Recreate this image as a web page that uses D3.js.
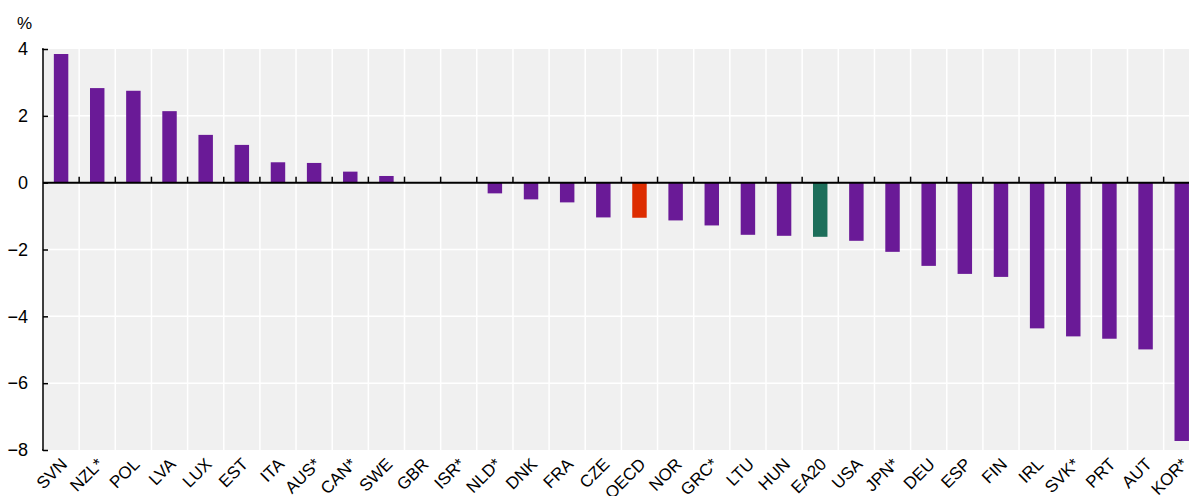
<!DOCTYPE html>
<html>
<head>
<meta charset="utf-8">
<script src="https://cdn.jsdelivr.net/npm/d3@7"></script>
<style>
  body { margin: 0; background: #fff; }
  svg { display: block; font-family: "Liberation Sans", Arial, sans-serif; }
</style>
</head>
<body>
<div id="chart"></div>
<script>
// 국가 코드
const countries = ["SVN", "NZL*", "POL", "LVA", "LUX", "EST", "ITA", "AUS*", "CAN*", "SWE", "GBR", "ISR*",
  "NLD*", "DNK", "FRA", "CZE", "OECD", "NOR", "GRC*", "LTU", "HUN", "EA20", "USA", "JPN*",
  "DEU", "ESP", "FIN", "IRL", "SVK*", "PRT", "AUT", "KOR*"];
// 변화율 (%)
const values = [3.85, 2.83, 2.75, 2.14, 1.43, 1.13, 0.61, 0.59, 0.33, 0.2, 0, 0,
  -0.32, -0.5, -0.59, -1.04, -1.05, -1.13, -1.28, -1.56, -1.59, -1.62, -1.74, -2.07,
  -2.49, -2.73, -2.82, -4.36, -4.6, -4.67, -4.99, -7.73];
const yTicks = [4, 2, 0, -2, -4, -6, -8];
const highlight = { "OECD": "#dd2c00", "EA20": "#1d6e5a" };

const width = 1189, height = 496;
const plotLeft = 43, plotTop = 49, plotBottom = 450;
const step = 36.15;
const plotRight = plotLeft + countries.length * step;

const svg = d3.select("#chart").append("svg")
    .attr("width", width)
    .attr("height", height);

const x = d3.scaleBand()
    .domain(countries)
    .range([plotLeft, plotRight])
    .paddingInner(0.6)
    .paddingOuter(0.3);

const y = d3.scaleLinear()
    .domain([-8, 4])
    .range([plotBottom, plotTop]);

// 배경
svg.append("rect")
    .attr("x", plotLeft)
    .attr("y", plotTop)
    .attr("width", plotRight - plotLeft)
    .attr("height", plotBottom - plotTop)
    .attr("fill", "#f0f0f0");

// 세로 격자선
svg.append("g")
    .selectAll("line")
    .data(countries.slice(1))
    .enter().append("line")
    .attr("x1", d => x(d) - x.step() * 0.3)
    .attr("x2", d => x(d) - x.step() * 0.3)
    .attr("y1", plotTop)
    .attr("y2", plotBottom)
    .attr("stroke", "#fff")
    .attr("stroke-width", 1.5);

// 가로 격자선
svg.append("g")
    .selectAll("line")
    .data(yTicks.filter(d => d !== 0 && d !== 4 && d !== -8))
    .enter().append("line")
    .attr("x1", plotLeft)
    .attr("x2", plotRight)
    .attr("y1", d => y(d))
    .attr("y2", d => y(d))
    .attr("stroke", "#fff")
    .attr("stroke-width", 1.5);

// 막대
svg.append("g")
    .selectAll("rect")
    .data(countries)
    .enter().append("rect")
    .attr("x", d => x(d))
    .attr("width", x.bandwidth())
    .attr("y", (d, i) => y(Math.max(0, values[i])))
    .attr("height", (d, i) => Math.abs(y(values[i]) - y(0)))
    .attr("fill", d => highlight[d] || "#6a1a97");

// y축
const yAxis = svg.append("g")
    .attr("transform", `translate(${plotLeft},0)`)
    .call(d3.axisLeft(y).tickValues(yTicks).tickSize(-5).tickPadding(15).tickFormat(d3.format("d")));
yAxis.select(".domain").attr("stroke", "#000").attr("stroke-width", 1.5).attr("d", `M-1,${plotTop}H0V${plotBottom}H-1`);
yAxis.selectAll(".tick line").attr("stroke", "#000").attr("stroke-width", 1.5);
yAxis.selectAll("text").attr("fill", "#000").style("font-size", "18px");

// 0 기준선과 눈금
const zero = svg.append("g");
zero.append("line")
    .attr("x1", plotLeft)
    .attr("x2", plotRight)
    .attr("y1", y(0))
    .attr("y2", y(0))
    .attr("stroke", "#000")
    .attr("stroke-width", 2);
zero.selectAll(".tk")
    .data(countries.slice(1))
    .enter().append("line")
    .attr("class", "tk")
    .attr("x1", d => x(d) - x.step() * 0.3)
    .attr("x2", d => x(d) - x.step() * 0.3)
    .attr("y1", y(0))
    .attr("y2", y(0) - 6)
    .attr("stroke", "#000")
    .attr("stroke-width", 1.5);

// x축 라벨
svg.append("g")
    .selectAll("text")
    .data(countries)
    .enter().append("text")
    .attr("transform", d => `translate(${x(d) + x.bandwidth() / 2 + 3},${plotBottom + 11}) rotate(-45)`)
    .attr("text-anchor", "end")
    .attr("dy", "0.35em")
    .style("font-size", "17px")
    .attr("fill", "#000")
    .text(d => d);

// 단위
svg.append("text")
    .attr("x", 17)
    .attr("y", 29)
    .style("font-size", "17px")
    .text("%");
</script>
</body>
</html>
